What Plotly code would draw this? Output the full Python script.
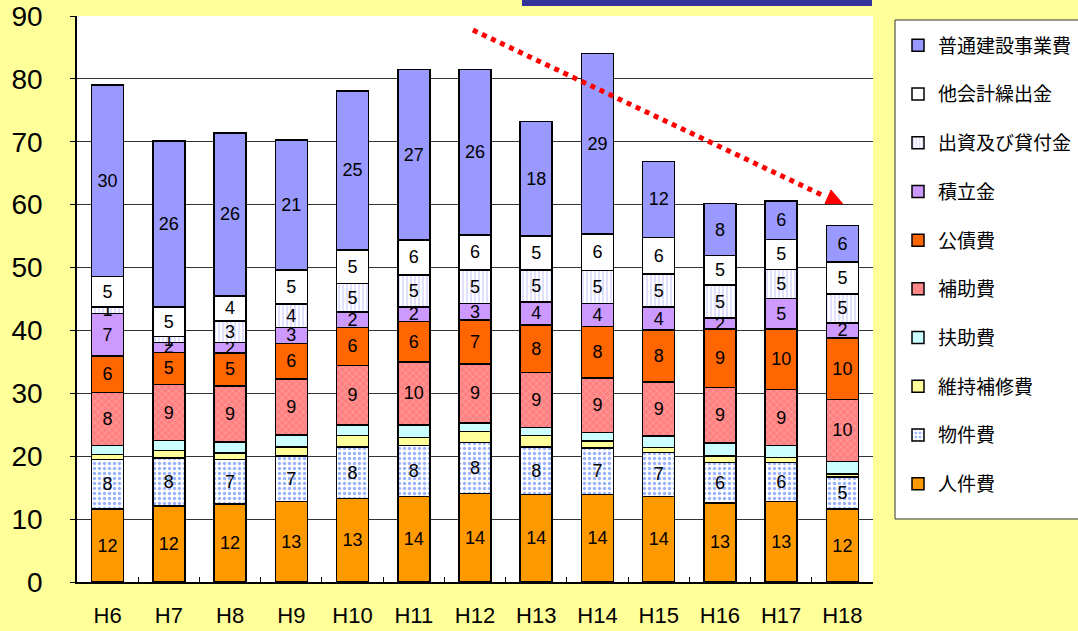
import plotly.graph_objects as go

years = ["H6", "H7", "H8", "H9", "H10", "H11", "H12", "H13", "H14", "H15", "H16", "H17", "H18"]

jinkenhi = [11.6, 12.1, 12.4, 12.8, 13.3, 13.6, 14.1, 13.9, 13.9, 13.6, 12.6, 12.8, 11.6]   # 人件費
bukkenhi = [7.9, 7.6, 7.1, 7.2, 8.2, 8.1, 8.1, 7.6, 7.4, 7.0, 6.4, 6.2, 5.1]            # 物件費
iji_hoshu = [0.8, 1.2, 1.0, 1.5, 1.8, 1.3, 1.7, 1.8, 1.1, 0.8, 1.0, 0.8, 0.5]          # 維持補修費
fujohi = [1.4, 1.6, 1.8, 1.9, 1.7, 2.0, 1.4, 1.3, 1.4, 1.8, 2.1, 1.9, 2.0]             # 扶助費
hojohi = [8.4, 8.9, 8.9, 8.9, 9.4, 10.0, 9.4, 8.7, 8.6, 8.6, 8.8, 8.9, 9.8]            # 補助費
kosaihi = [5.8, 5.1, 5.2, 5.6, 6.1, 6.4, 7.0, 7.6, 8.2, 8.3, 9.3, 9.6, 9.8]            # 公債費
tsumitate = [6.8, 1.6, 1.7, 2.6, 2.4, 2.3, 2.6, 3.6, 3.7, 3.6, 1.8, 4.9, 2.4]          # 積立金
shusshi = [1.0, 0.9, 3.4, 3.7, 4.6, 5.1, 5.3, 5.1, 5.2, 5.3, 5.2, 4.6, 4.6]            # 出資及び貸付金
kuridashi = [4.9, 4.7, 4.0, 5.4, 5.3, 5.6, 5.6, 5.4, 5.8, 5.8, 4.7, 4.8, 5.1]          # 他会計繰出金
futsu_kensetsu = [30.4, 26.4, 25.9, 20.7, 25.3, 27.1, 26.3, 18.2, 28.7, 12.1, 8.3, 6.1, 5.8]  # 普通建設事業費

series = [
    ("人件費", jinkenhi, "#FF9900", None, True),
    ("物件費", bukkenhi, "#FFFFFF", dict(shape=".", fgcolor="#3366FF", bgcolor="#FFFFFF", size=5, solidity=0.35), True),
    ("維持補修費", iji_hoshu, "#FFFF99", None, False),
    ("扶助費", fujohi, "#CCFFFF", None, False),
    ("補助費", hojohi, "#FF8080", dict(shape="x", fgcolor="#FFD0D0", bgcolor="#FF8080", size=5, solidity=0.25), True),
    ("公債費", kosaihi, "#FF6600", None, True),
    ("積立金", tsumitate, "#CC99FF", None, True),
    ("出資及び貸付金", shusshi, "#FFFFFF", dict(shape="|", fgcolor="#9999FF", bgcolor="#FFFFFF", size=4, solidity=0.3), True),
    ("他会計繰出金", kuridashi, "#FFFFFF", None, True),
    ("普通建設事業費", futsu_kensetsu, "#9999FF", None, True),
]

fig = go.Figure()
n = len(series)
for i, (name, vals, color, pattern, labeled) in enumerate(series):
    marker = dict(color=color, line=dict(color="#000000", width=1.5))
    if pattern:
        marker["pattern"] = pattern
    fig.add_trace(go.Bar(
        x=years, y=vals, name=name, legendgroup=name,
        legendrank=n - i,
        marker=marker,
        texttemplate="%{y:.0f}" if labeled else None,
        textposition="inside" if labeled else "none",
        insidetextanchor="middle",
        textangle=0,
        constraintext="none",
        insidetextfont=dict(family="Liberation Sans, Arial, sans-serif", size=18, color="#000000"),
        hoverinfo="skip",
    ))

ML, MR, MT, MB = 77, 205, 16, 49
W, H = 1078, 631
PW, PH = W - ML - MR, H - MT - MB


def PX(x):
    return (x - ML) / PW


def PY(y):
    return (H - MB - y) / PH


shapes = [
    # cut-off title band at top
    dict(type="rect", xref="paper", yref="paper", x0=PX(522), x1=PX(872), y0=PY(6), y1=PY(-5),
         fillcolor="#333399", line=dict(width=0), layer="above"),
    # legend frame
    dict(type="rect", xref="paper", yref="paper", x0=PX(895), x1=PX(1085), y0=PY(519), y1=PY(20),
         fillcolor="#FFFFFF", line=dict(color="#333333", width=1), layer="below"),
    # red dotted trend arrow
    dict(type="line", xref="paper", yref="paper", x0=PX(473), y0=PY(30), x1=PX(822), y1=PY(195),
         line=dict(color="#FF0000", width=5, dash="5px,5px"), layer="above"),
    dict(type="path", xref="paper", yref="paper",
         path=f"M {PX(831)} {PY(190)} L {PX(825)} {PY(203.5)} L {PX(842.5)} {PY(203.5)} Z",
         fillcolor="#FF0000", line=dict(color="#FF0000", width=1), layer="above"),
]

fig.update_layout(
    width=W, height=H, autosize=False,
    margin=dict(l=ML, r=MR, t=MT, b=MB, pad=0, autoexpand=False),
    paper_bgcolor="#FFFF99",
    plot_bgcolor="#FFFFFF",
    barmode="stack",
    bargap=0.477,
    font=dict(family="Liberation Sans, Arial, sans-serif", color="#000000"),
    uniformtext=dict(minsize=18, mode="show"),
    shapes=shapes,
    showlegend=True,
    legend=dict(
        x=PX(898), y=PY(26.5), xanchor="left", yanchor="top",
        traceorder="grouped",
        bgcolor="rgba(0,0,0,0)", borderwidth=0,
        font=dict(family="Noto Sans CJK JP, sans-serif", size=19, color="#000000"),
        tracegroupgap=21,
        itemwidth=30,
    ),
    xaxis=dict(
        type="category", automargin=False,
        showline=True, linecolor="#000000", linewidth=1.5,
        ticks="inside", tickson="boundaries", ticklen=5, tickcolor="#000000",
        showgrid=False,
        tickfont=dict(size=22, family="Liberation Sans, Arial, sans-serif", color="#000000"),
        ticklabelstandoff=13,
    ),
    yaxis=dict(
        range=[0, 90], dtick=10, tick0=0, automargin=False,
        showline=True, linecolor="#000000", linewidth=1.5,
        ticks="outside", ticklen=5, tickcolor="#000000",
        showgrid=True, gridcolor="#333333", gridwidth=1,
        zeroline=False,
        tickfont=dict(size=28, family="Liberation Sans, Arial, sans-serif", color="#000000"),
        ticklabelstandoff=22,
    ),
)

fig.write_html("out.html")
